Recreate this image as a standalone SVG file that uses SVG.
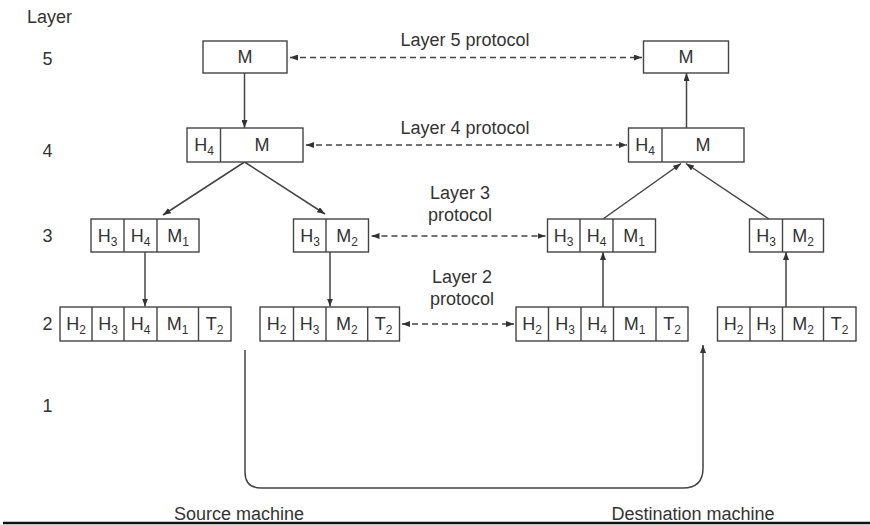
<svg xmlns="http://www.w3.org/2000/svg" width="870" height="525" viewBox="0 0 870 525">
  <style>
    text { font-family: "Liberation Sans", Arial, sans-serif; font-size: 18px; fill: #333; }
    .c { text-anchor: middle; }
    .sub { font-size: 12px; }
    .box { fill: #fff; stroke: #444; stroke-width: 1.4; }
    .div { stroke: #444; stroke-width: 1.4; }
    .flow { fill: none; stroke: #444; stroke-width: 1.5; }
    .peer { fill: none; stroke: #444; stroke-width: 1.5; stroke-dasharray: 6 4; }
  </style>
  <defs>
    <marker id="arrow" viewBox="0 0 8 6" refX="8" refY="3" markerWidth="8" markerHeight="6" markerUnits="userSpaceOnUse" orient="auto-start-reverse">
      <path d="M0,0 L8,3 L0,6 z" fill="#333"/>
    </marker>
  </defs>

  <rect width="870" height="525" fill="#fff"/>

  <!-- layer numbering -->
  <g id="layer-labels">
    <text x="27" y="23">Layer</text>
    <text class="c" x="47.5" y="65">5</text>
    <text class="c" x="47.5" y="157">4</text>
    <text class="c" x="47.5" y="242">3</text>
    <text class="c" x="47.5" y="330">2</text>
    <text class="c" x="47.5" y="412">1</text>
  </g>

  <!-- protocol labels -->
  <g id="protocol-labels">
    <text class="c" x="465" y="46">Layer 5 protocol</text>
    <text class="c" x="465" y="134">Layer 4 protocol</text>
    <text class="c" x="460" y="199">Layer 3</text>
    <text class="c" x="460" y="221">protocol</text>
    <text class="c" x="462" y="283">Layer 2</text>
    <text class="c" x="462" y="305">protocol</text>
  </g>

  <!-- connectors -->
  <g id="connectors">
    <line class="peer" x1="290" y1="57.5" x2="642" y2="57.5" marker-start="url(#arrow)" marker-end="url(#arrow)"/>
    <line class="peer" x1="306" y1="145" x2="627" y2="145" marker-start="url(#arrow)" marker-end="url(#arrow)"/>
    <line class="peer" x1="371.5" y1="236" x2="545.5" y2="236" marker-start="url(#arrow)" marker-end="url(#arrow)"/>
    <line class="peer" x1="402" y1="324" x2="514" y2="324" marker-start="url(#arrow)" marker-end="url(#arrow)"/>

    <line class="flow" x1="244.5" y1="73" x2="244.5" y2="128" marker-end="url(#arrow)"/>
    <line class="flow" x1="244.5" y1="162" x2="163" y2="215" marker-end="url(#arrow)"/>
    <line class="flow" x1="244.5" y1="162" x2="325" y2="214" marker-end="url(#arrow)"/>
    <line class="flow" x1="145" y1="252" x2="145" y2="306.5" marker-end="url(#arrow)"/>
    <line class="flow" x1="330" y1="252" x2="330" y2="306.5" marker-end="url(#arrow)"/>

    <path class="flow" d="M245,350 V472 Q245,488 261,488 H683 Q703,488 703,468 V345" marker-end="url(#arrow)"/>

    <line class="flow" x1="603" y1="307" x2="603" y2="252" marker-end="url(#arrow)"/>
    <line class="flow" x1="786" y1="307" x2="786" y2="252" marker-end="url(#arrow)"/>
    <line class="flow" x1="603" y1="219" x2="681" y2="163.5" marker-end="url(#arrow)"/>
    <line class="flow" x1="769" y1="219" x2="686" y2="163.5" marker-end="url(#arrow)"/>
    <line class="flow" x1="686.5" y1="128" x2="686.5" y2="73" marker-end="url(#arrow)"/>
  </g>

  <!-- source machine -->
  <g id="src-l5">
    <rect class="box" x="203" y="41" width="84" height="32"/>
    <text class="c" x="245" y="63">M</text>
  </g>
  <g id="src-l4">
    <rect class="box" x="187" y="128" width="116" height="34"/>
    <line class="div" x1="220.5" y1="128" x2="220.5" y2="162"/>
    <text class="c" x="204" y="151">H<tspan class="sub" dy="4">4</tspan></text>
    <text class="c" x="262" y="151">M</text>
  </g>
  <g id="src-l3-a">
    <rect class="box" x="91" y="219" width="108" height="33"/>
    <line class="div" x1="124" y1="219" x2="124" y2="252"/>
    <line class="div" x1="157" y1="219" x2="157" y2="252"/>
    <text class="c" x="107.5" y="241.5">H<tspan class="sub" dy="4">3</tspan></text>
    <text class="c" x="140.5" y="241.5">H<tspan class="sub" dy="4">4</tspan></text>
    <text class="c" x="178" y="241.5">M<tspan class="sub" dy="4">1</tspan></text>
  </g>
  <g id="src-l3-b">
    <rect class="box" x="293.5" y="219" width="75" height="33"/>
    <line class="div" x1="326" y1="219" x2="326" y2="252"/>
    <text class="c" x="310" y="241.5">H<tspan class="sub" dy="4">3</tspan></text>
    <text class="c" x="347" y="241.5">M<tspan class="sub" dy="4">2</tspan></text>
  </g>
  <g id="src-l2-a">
    <rect class="box" x="60" y="307" width="171" height="34"/>
    <line class="div" x1="92" y1="307" x2="92" y2="341"/>
    <line class="div" x1="124" y1="307" x2="124" y2="341"/>
    <line class="div" x1="157" y1="307" x2="157" y2="341"/>
    <line class="div" x1="198.5" y1="307" x2="198.5" y2="341"/>
    <text class="c" x="76" y="330">H<tspan class="sub" dy="4">2</tspan></text>
    <text class="c" x="108" y="330">H<tspan class="sub" dy="4">3</tspan></text>
    <text class="c" x="140.5" y="330">H<tspan class="sub" dy="4">4</tspan></text>
    <text class="c" x="177.7" y="330">M<tspan class="sub" dy="4">1</tspan></text>
    <text class="c" x="214.7" y="330">T<tspan class="sub" dy="4">2</tspan></text>
  </g>
  <g id="src-l2-b">
    <rect class="box" x="260" y="307" width="139.5" height="34"/>
    <line class="div" x1="293.5" y1="307" x2="293.5" y2="341"/>
    <line class="div" x1="326" y1="307" x2="326" y2="341"/>
    <line class="div" x1="367.7" y1="307" x2="367.7" y2="341"/>
    <text class="c" x="276.7" y="330">H<tspan class="sub" dy="4">2</tspan></text>
    <text class="c" x="309.7" y="330">H<tspan class="sub" dy="4">3</tspan></text>
    <text class="c" x="346.8" y="330">M<tspan class="sub" dy="4">2</tspan></text>
    <text class="c" x="383.6" y="330">T<tspan class="sub" dy="4">2</tspan></text>
  </g>

  <!-- destination machine -->
  <g id="dst-l5">
    <rect class="box" x="643.5" y="41" width="85" height="32"/>
    <text class="c" x="686" y="63">M</text>
  </g>
  <g id="dst-l4">
    <rect class="box" x="628.5" y="128" width="115.5" height="34"/>
    <line class="div" x1="662" y1="128" x2="662" y2="162"/>
    <text class="c" x="645" y="151">H<tspan class="sub" dy="4">4</tspan></text>
    <text class="c" x="703" y="151">M</text>
  </g>
  <g id="dst-l3-a">
    <rect class="box" x="547.5" y="219" width="108" height="33"/>
    <line class="div" x1="580" y1="219" x2="580" y2="252"/>
    <line class="div" x1="613" y1="219" x2="613" y2="252"/>
    <text class="c" x="563.7" y="241.5">H<tspan class="sub" dy="4">3</tspan></text>
    <text class="c" x="596.5" y="241.5">H<tspan class="sub" dy="4">4</tspan></text>
    <text class="c" x="634" y="241.5">M<tspan class="sub" dy="4">1</tspan></text>
  </g>
  <g id="dst-l3-b">
    <rect class="box" x="749.5" y="219" width="74" height="33"/>
    <line class="div" x1="782.5" y1="219" x2="782.5" y2="252"/>
    <text class="c" x="766" y="241.5">H<tspan class="sub" dy="4">3</tspan></text>
    <text class="c" x="803" y="241.5">M<tspan class="sub" dy="4">2</tspan></text>
  </g>
  <g id="dst-l2-a">
    <rect class="box" x="516" y="307" width="172" height="34"/>
    <line class="div" x1="548.5" y1="307" x2="548.5" y2="341"/>
    <line class="div" x1="581" y1="307" x2="581" y2="341"/>
    <line class="div" x1="613.5" y1="307" x2="613.5" y2="341"/>
    <line class="div" x1="656" y1="307" x2="656" y2="341"/>
    <text class="c" x="532" y="330">H<tspan class="sub" dy="4">2</tspan></text>
    <text class="c" x="565" y="330">H<tspan class="sub" dy="4">3</tspan></text>
    <text class="c" x="597" y="330">H<tspan class="sub" dy="4">4</tspan></text>
    <text class="c" x="634.7" y="330">M<tspan class="sub" dy="4">1</tspan></text>
    <text class="c" x="672" y="330">T<tspan class="sub" dy="4">2</tspan></text>
  </g>
  <g id="dst-l2-b">
    <rect class="box" x="717.5" y="307" width="138.5" height="34"/>
    <line class="div" x1="750" y1="307" x2="750" y2="341"/>
    <line class="div" x1="782.5" y1="307" x2="782.5" y2="341"/>
    <line class="div" x1="823.5" y1="307" x2="823.5" y2="341"/>
    <text class="c" x="733.7" y="330">H<tspan class="sub" dy="4">2</tspan></text>
    <text class="c" x="766" y="330">H<tspan class="sub" dy="4">3</tspan></text>
    <text class="c" x="803" y="330">M<tspan class="sub" dy="4">2</tspan></text>
    <text class="c" x="839.7" y="330">T<tspan class="sub" dy="4">2</tspan></text>
  </g>

  <!-- machine captions and base rule -->
  <g id="captions">
    <text class="c" x="239" y="520">Source machine</text>
    <text class="c" x="693" y="520">Destination machine</text>
    <line x1="3" y1="523" x2="870" y2="523" stroke="#111" stroke-width="2.5"/>
  </g>
</svg>
